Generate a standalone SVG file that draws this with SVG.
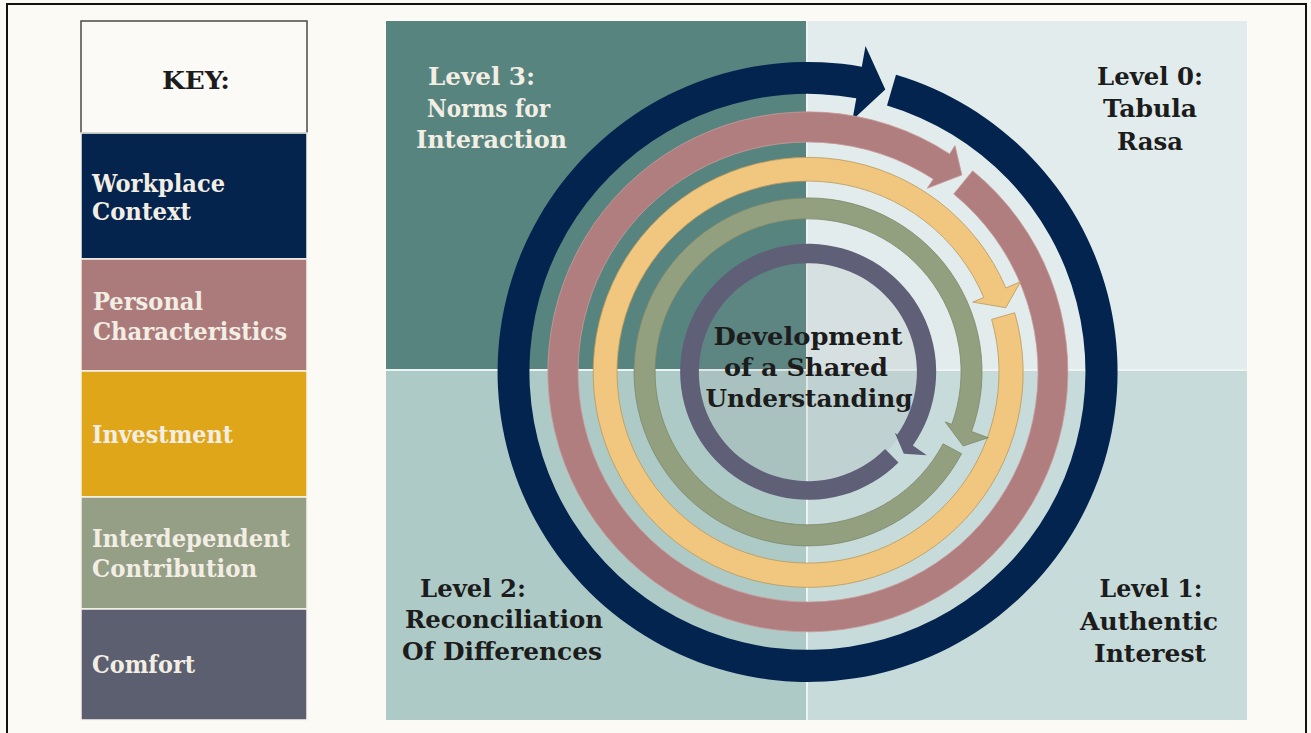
<svg xmlns="http://www.w3.org/2000/svg" width="1311" height="733" viewBox="0 0 1311 733">
  <style>
    .t { font-family: "DejaVu Serif", "Liberation Serif", serif; font-weight: bold; font-size: 24px; }
    .lt { fill: #f3eee4; }
    .dk { fill: #1c1c1c; }
    .key { stroke: #f7f4ec; stroke-width: 1.5; }
    .div { stroke: #eef4f4; stroke-width: 2; }
  </style>
  <rect x="0" y="0" width="1311" height="733" fill="#fbfaf5"/>
  <rect x="7" y="4" width="1299" height="745" fill="none" stroke="#111" stroke-width="2"/>

  <!-- Key -->
  <g id="key-title">
    <rect x="81" y="21" width="226" height="112" fill="#fcfaf6" stroke="#4a4a4a" stroke-width="1.5"/>
    <text class="t dk" x="196" y="89" text-anchor="middle" textLength="68" lengthAdjust="spacingAndGlyphs">KEY:</text>
  </g>
  <g id="key-workplace-context">
    <rect class="key" x="81" y="133" width="226" height="126" fill="#04244e"/>
    <text class="t lt" x="92" y="192" textLength="133" lengthAdjust="spacingAndGlyphs">Workplace</text>
    <text class="t lt" x="92" y="220" textLength="99" lengthAdjust="spacingAndGlyphs">Context</text>
  </g>
  <g id="key-personal-characteristics">
    <rect class="key" x="81" y="259" width="226" height="112" fill="#ab7b7c"/>
    <text class="t lt" x="93" y="310" textLength="110" lengthAdjust="spacingAndGlyphs">Personal</text>
    <text class="t lt" x="93" y="340" textLength="194" lengthAdjust="spacingAndGlyphs">Characteristics</text>
  </g>
  <g id="key-investment">
    <rect class="key" x="81" y="371" width="226" height="126" fill="#e0a61a"/>
    <text class="t lt" x="92" y="443" textLength="141" lengthAdjust="spacingAndGlyphs">Investment</text>
  </g>
  <g id="key-interdependent-contribution">
    <rect class="key" x="81" y="497" width="226" height="112" fill="#949f86"/>
    <text class="t lt" x="92" y="547" textLength="198" lengthAdjust="spacingAndGlyphs">Interdependent</text>
    <text class="t lt" x="92" y="577" textLength="165" lengthAdjust="spacingAndGlyphs">Contribution</text>
  </g>
  <g id="key-comfort">
    <rect class="key" x="81" y="609" width="226" height="111" fill="#5c5f6f"/>
    <text class="t lt" x="92" y="673" textLength="103" lengthAdjust="spacingAndGlyphs">Comfort</text>
  </g>

  <!-- Quadrants -->
  <g id="quadrants">
    <rect x="386" y="21" width="421" height="349" fill="#57847f"/>
    <rect x="807" y="21" width="440" height="349" fill="#e3ecec"/>
    <rect x="386" y="370" width="421" height="350" fill="#aecac6"/>
    <rect x="807" y="370" width="440" height="350" fill="#c8dbdb"/>
    <line class="div" x1="386" y1="370" x2="1247" y2="370"/>
    <line class="div" x1="807" y1="21" x2="807" y2="720"/>
    <circle cx="808" cy="372" r="112" fill="#8a9090" fill-opacity="0.13"/>
  </g>

  <!-- Circular arrows -->
  <g id="connectors">
    <path id="ring-workplace" fill="#03244f" d="M896.0,74.8 A310,310 0 1 1 861.8,66.7 L865.5,46.0 L885.3,89.4 L852.4,119.9 L856.3,98.2 A278,278 0 1 0 887.0,105.5 Z"/>
    <path id="ring-personal" fill="#b17e7f" stroke="#c79a9a" stroke-width="0.8" d="M972.7,170.8 A260,260 0 1 1 949.6,153.9 L955.0,145.6 L961.9,175.0 L927.3,188.3 L933.3,179.1 A230,230 0 1 0 953.7,194.0 Z"/>
    <path id="ring-investment" fill="#f1c67e" stroke="#b8995e" stroke-width="0.8" d="M1014.7,312.7 A215,215 0 1 1 1005.9,288.0 L1020.6,281.7 L1005.8,307.7 L972.8,302.1 L983.8,297.4 A191,191 0 1 0 991.6,319.4 Z"/>
    <path id="ring-interdependent" fill="#93a07f" stroke="#7c886b" stroke-width="0.8" d="M961.6,453.7 A174,174 0 1 1 971.5,431.5 L988.4,437.7 L963.2,446.0 L945.2,421.9 L951.8,424.3 A153,153 0 1 0 943.1,443.8 Z"/>
    <path id="ring-comfort" fill="#5f5f78" d="M898.5,462.5 A128,128 0 1 1 912.9,445.4 L926.8,455.2 L903.8,453.8 L894.8,432.8 L897.3,434.5 A109,109 0 1 0 885.1,449.1 Z"/>
  </g>

  <!-- Center -->
  <g id="center-label">
    <text class="t dk" x="808" y="345" text-anchor="middle" textLength="189" lengthAdjust="spacingAndGlyphs">Development</text>
    <text class="t dk" x="806" y="376" text-anchor="middle" textLength="164" lengthAdjust="spacingAndGlyphs">of a Shared</text>
    <text class="t dk" x="809" y="407" text-anchor="middle" textLength="207" lengthAdjust="spacingAndGlyphs">Understanding</text>
  </g>

  <!-- Quadrant labels -->
  <g id="level-3">
    <text class="t lt" x="428" y="85" textLength="107" lengthAdjust="spacingAndGlyphs">Level 3:</text>
    <text class="t lt" x="427" y="117" textLength="123" lengthAdjust="spacingAndGlyphs">Norms for</text>
    <text class="t lt" x="416" y="148" textLength="151" lengthAdjust="spacingAndGlyphs">Interaction</text>
  </g>
  <g id="level-0">
    <text class="t dk" x="1150" y="85" text-anchor="middle" textLength="106" lengthAdjust="spacingAndGlyphs">Level 0:</text>
    <text class="t dk" x="1150" y="117" text-anchor="middle" textLength="94" lengthAdjust="spacingAndGlyphs">Tabula</text>
    <text class="t dk" x="1150" y="150" text-anchor="middle" textLength="66" lengthAdjust="spacingAndGlyphs">Rasa</text>
  </g>
  <g id="level-1">
    <text class="t dk" x="1151" y="597" text-anchor="middle" textLength="103" lengthAdjust="spacingAndGlyphs">Level 1:</text>
    <text class="t dk" x="1149" y="630" text-anchor="middle" textLength="138" lengthAdjust="spacingAndGlyphs">Authentic</text>
    <text class="t dk" x="1150" y="662" text-anchor="middle" textLength="112" lengthAdjust="spacingAndGlyphs">Interest</text>
  </g>
  <g id="level-2">
    <text class="t dk" x="473" y="597" text-anchor="middle" textLength="106" lengthAdjust="spacingAndGlyphs">Level 2:</text>
    <text class="t dk" x="504" y="628" text-anchor="middle" textLength="198" lengthAdjust="spacingAndGlyphs">Reconciliation</text>
    <text class="t dk" x="502" y="660" text-anchor="middle" textLength="200" lengthAdjust="spacingAndGlyphs">Of Differences</text>
  </g>
</svg>
